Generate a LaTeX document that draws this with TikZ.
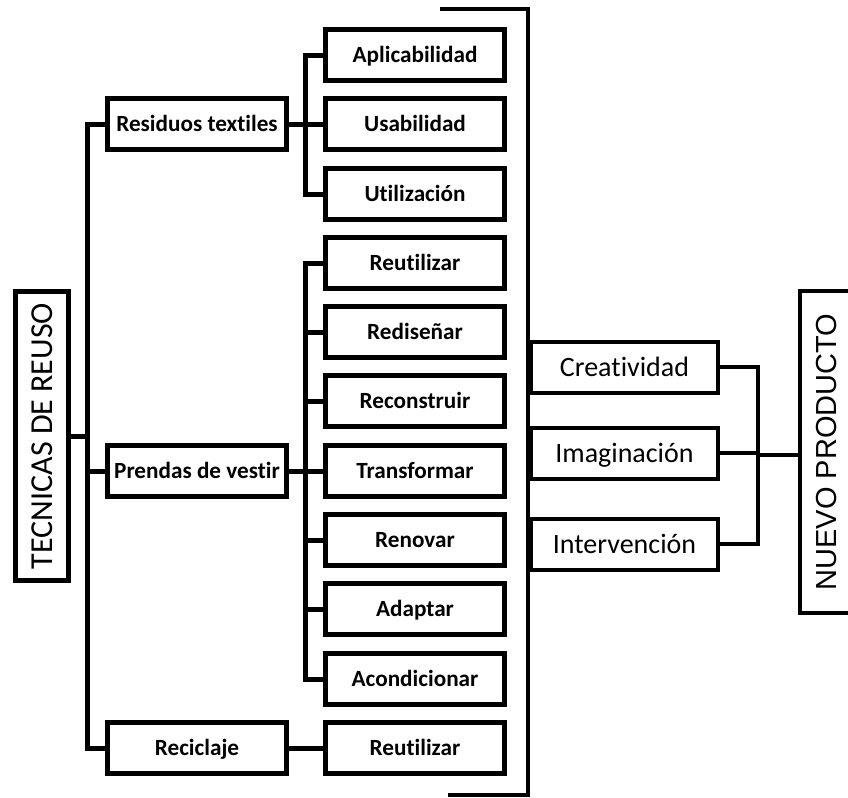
\documentclass[tikz,border=0pt]{standalone}
\usepackage{fontspec}
\setmainfont{Carlito}[Ligatures=NoCommon]
\newfontfamily\arialfont{Liberation Sans}
\newcommand{\hoja}[3] % name, y in px, text
{
	\node[hoja] (#1) at (415,#2) {#3};
}
\newcommand{\idea}[3] % name, y in px, text
{
	\node[idea] (#1) at (529,#2) {#3};
}

\begin{document}
\begin{tikzpicture}[x=0.5pt, y=-0.5pt,
	rama/.style={draw, line width=2.5pt, minimum width=89.5pt, minimum height=25.5pt, inner sep=0pt, text height=8.5pt, text depth=1pt, font=\fontsize{11.6}{13}\selectfont\bfseries},
	hoja/.style={rama},
	idea/.style={draw, line width=2pt, anchor=west, minimum width=93.5pt, minimum height=25.5pt, inner sep=0pt, text height=10pt, text depth=1pt, font=\fontsize{14}{16}\selectfont},
	conn/.style={line width=2.5pt},
	thin conn/.style={line width=2pt}]
	% page is 848 x 798 px, 1px = 0.5pt
	\clip (0,0) rectangle (848,798);
	
	% root
	\node[draw, line width=2.5pt, rotate=90, minimum width=144.5pt, minimum height=26.5pt, inner sep=0pt, text height=11.5pt, text depth=1pt, font=\fontsize{16}{18}\selectfont] (tecnicas) at (42,436) {TECNICAS DE REUSO};
	
	% first level
	\node[rama] (residuos) at (197,124) {Residuos textiles};
	\node[rama] (prendas) at (197,471) {Prendas de vestir};
	\node[rama] (reciclaje) at (197,748) {Reciclaje};
	
	% second level
	\hoja{aplic}{55}{Aplicabilidad};
	\hoja{usab}{124}{Usabilidad};
	\hoja{util}{194}{Utilización};
	\hoja{reutil}{263}{Reutilizar};
	\hoja{redis}{332}{Rediseñar};
	\hoja{recons}{401}{Reconstruir};
	\hoja{transf}{471}{Transformar};
	\hoja{renov}{540}{Renovar};
	\hoja{adapt}{609}{Adaptar};
	\hoja{acond}{679}{Acondicionar};
	\hoja{reutilb}{748}{Reutilizar};
	
	% trunks
	\foreach \n in {residuos,prendas,reciclaje}
		\draw[conn] (tecnicas.south) -- ++(16,0) |- (\n.west);
	\foreach \n in {aplic,usab,util}
		\draw[conn] (residuos.east) -- ++(16,0) |- (\n.west);
	\foreach \n in {reutil,redis,recons,transf,renov,adapt,acond}
		\draw[conn] (prendas.east) -- ++(16,0) |- (\n.west);
	\draw[conn] (reciclaje) -- (reutilb);
	
	% bracket
	\draw[thin conn] (440,9) -| (528,795) -- (448,795);
	
	% right side
	\idea{creat}{367}{Creatividad};
	\idea{imag}{453}{Imaginación};
	\idea{interv}{544}{Intervención};
	
	\node[draw, line width=2pt, rotate=90, minimum width=161pt, minimum height=26pt, inner sep=0pt, text height=10.5pt, text depth=0pt, font=\arialfont\fontsize{14.5}{16}\selectfont] (nuevo) at (826,452) {NUEVO PRODUCTO};
	
	\coordinate (union) at (758,455);
	\foreach \n in {creat,imag,interv}
		\draw[thin conn] (\n.east) -| (union);
	\draw[thin conn] (union) -- (union -| nuevo.north);
	
\end{tikzpicture}
\end{document}
